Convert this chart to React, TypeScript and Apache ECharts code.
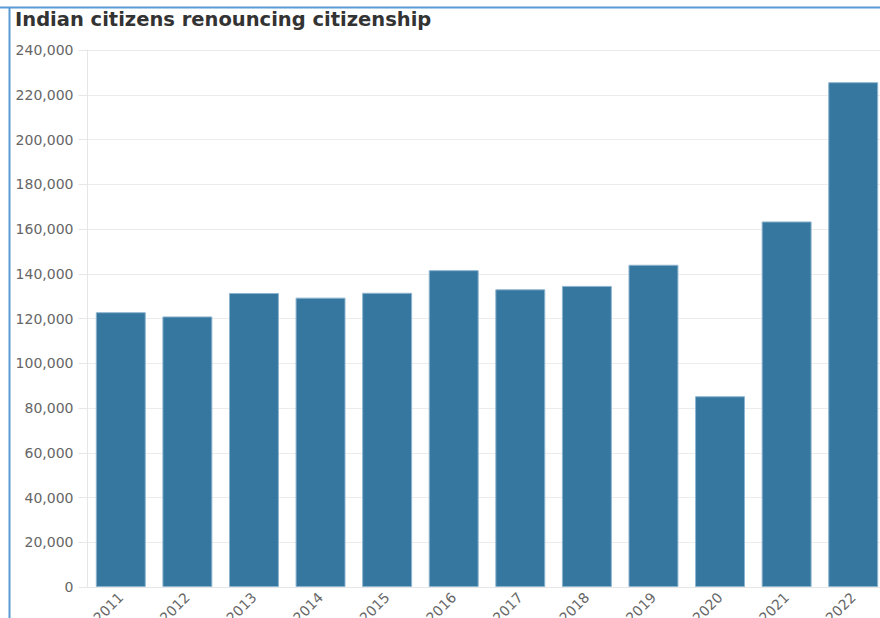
import React, { useEffect, useRef } from "react";
import * as echarts from "echarts";

const years = ["2011", "2012", "2013", "2014", "2015", "2016", "2017", "2018", "2019", "2020", "2021", "2022"];
const renounced = [122819, 120923, 131405, 129328, 131489, 141603, 133049, 134561, 144017, 85256, 163370, 225620];
const titleText = "Indian citizens renouncing citizenship";

export default function App() {
  const ref = useRef<HTMLDivElement>(null);
  useEffect(() => {
    if (!ref.current) return;
    const chart = echarts.init(ref.current, undefined, { renderer: "svg" });
    chart.setOption({
      animation: false,
      backgroundColor: "#ffffff",
      title: {
        text: titleText,
        left: 10,
        top: 4,
        textStyle: { fontFamily: "DejaVu Sans", fontWeight: "bold", fontSize: 19.5, color: "#333333" },
      },
      graphic: [
        { type: "line", shape: { x1: 0, y1: 7.5, x2: 900, y2: 7.5 }, style: { stroke: "#5b9bd5", lineWidth: 2 } },
        { type: "line", shape: { x1: 9.5, y1: 7, x2: 9.5, y2: 618 }, style: { stroke: "#5b9bd5", lineWidth: 2 } },
      ],
      grid: { left: 87.5, right: 13.5, top: 50, bottom: 31, containLabel: false, outerBoundsMode: "none" },
      xAxis: {
        type: "category",
        data: years,
        axisLine: { lineStyle: { color: "#e6e6e6" } },
        axisTick: { alignWithLabel: true, length: 5, lineStyle: { color: "#e6e6e6" } },
        axisLabel: { rotate: 45, color: "#666666", fontSize: 14, fontFamily: "DejaVu Sans", margin: 8 },
      },
      yAxis: {
        type: "value",
        min: 0,
        max: 240000,
        interval: 20000,
        axisLine: { show: true, lineStyle: { color: "#e6e6e6" } },
        axisTick: { show: true, length: 9, lineStyle: { color: "#e6e6e6" } },
        splitLine: { lineStyle: { color: "#ececec" } },
        axisLabel: {
          color: "#666666",
          fontSize: 14,
          fontFamily: "DejaVu Sans",
          margin: 14,
          formatter: (v: number) => v.toLocaleString("en-US"),
        },
      },
      series: [
        {
          type: "bar",
          data: renounced,
          barCategoryGap: "25%",
          itemStyle: { color: "#35779f", borderColor: "#8db4cf", borderWidth: 1 },
        },
      ],
    });
    return () => chart.dispose();
  }, []);
  return (
    <div style={{ position: "fixed", left: 0, top: 0, width: 880, height: 618, overflow: "hidden" }}>
      <div ref={ref} style={{ width: 900, height: 618 }} />
    </div>
  );
}
